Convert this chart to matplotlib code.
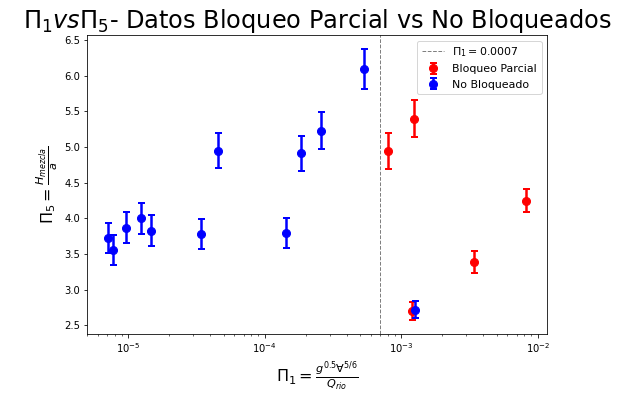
import numpy as np
import matplotlib
matplotlib.use('Agg')
import matplotlib.pyplot as plt

# Bloqueo parcial (red)
pi1_parcial = [7.96e-4, 1.24e-3, 1.19e-3, 3.43e-3, 8.22e-3]
pi5_parcial = [4.94, 5.40, 2.70, 3.39, 4.25]
err_parcial = [0.25, 0.26, 0.13, 0.15, 0.16]

# No bloqueado (blue)
pi1_nobloq = [7.1e-6, 7.7e-6, 9.7e-6, 1.24e-5, 1.47e-5, 3.39e-5, 4.54e-5,
              1.43e-4, 1.85e-4, 2.59e-4, 5.37e-4, 1.26e-3]
pi5_nobloq = [3.73, 3.56, 3.87, 4.00, 3.83, 3.78, 4.95,
              3.79, 4.91, 5.23, 6.10, 2.72]
err_nobloq = [0.21, 0.21, 0.22, 0.22, 0.22, 0.21, 0.25,
              0.21, 0.25, 0.26, 0.28, 0.12]

pi1_limite = 0.0007

fig = plt.figure(figsize=(620 / 72, 404 / 72), dpi=72)
ax = fig.add_axes([87 / 620, 1 - 334 / 404, 460 / 620, 299 / 404])

ax.errorbar(pi1_parcial, pi5_parcial, yerr=err_parcial, fmt='o', color='red',
            ms=8, elinewidth=2.5, capsize=3.5, capthick=2, label='Bloqueo Parcial')
ax.errorbar(pi1_nobloq, pi5_nobloq, yerr=err_nobloq, fmt='o', color='blue',
            ms=8, elinewidth=2.5, capsize=3.5, capthick=2, label='No Bloqueado')
ax.axvline(pi1_limite, color='grey', linestyle='--', lw=1,
           label=r'$\Pi_1 = 0.0007$')

ax.set_xscale('log')
ax.set_xlabel(r'$\Pi_1 = \frac{g^{0.5} \forall^{5/6}}{Q_{rio}}$', fontsize=16)
ax.set_ylabel(r'$\Pi_5 = \frac{H_{mezcla}}{a}$', fontsize=16)
ax.set_title(r'$\Pi_1 vs \Pi_5$- Datos Bloqueo Parcial vs No Bloqueados', fontsize=24)

ax.legend(loc='upper right', fontsize=11)

plt.savefig('out.png', dpi=72)
